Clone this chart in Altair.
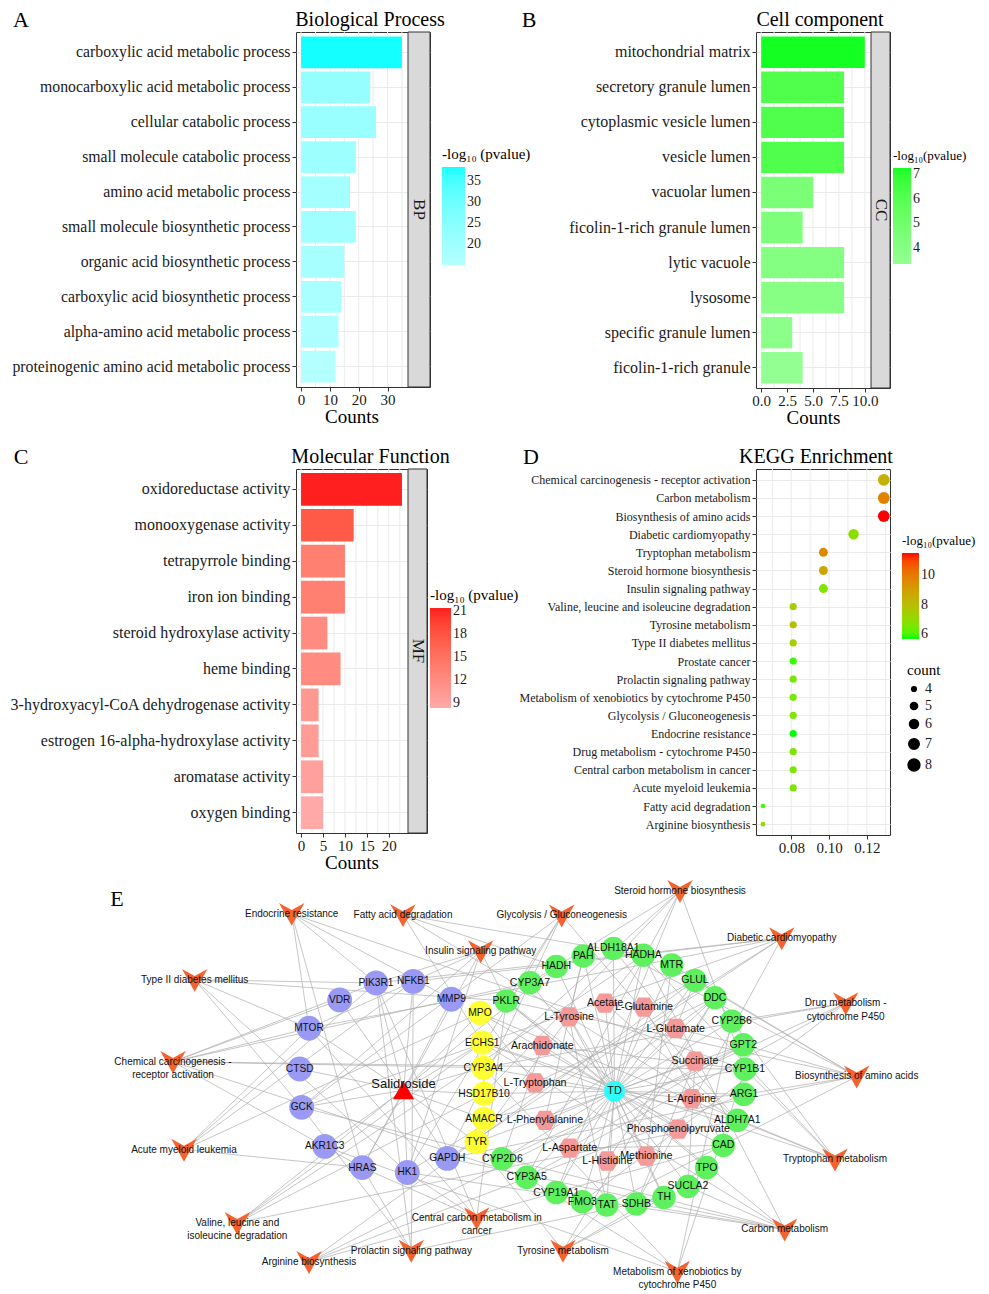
import altair as alt
import pandas as pd

SERIF = "Liberation Serif"
SANS = "Liberation Sans"
INK = "#1A1A1A"
FRAME = "#333333"
GRID = "#EBEBEB"
LOGP_TITLE = "-log\u2081\u2080 (pvalue)"
LOGP_TITLE_TIGHT = "-log\u2081\u2080(pvalue)"

# ---------------- A: Biological Process ----------------
bp_terms = ["carboxylic acid metabolic process", "monocarboxylic acid metabolic process",
            "cellular catabolic process", "small molecule catabolic process",
            "amino acid metabolic process", "small molecule biosynthetic process",
            "organic acid biosynthetic process", "carboxylic acid biosynthetic process",
            "alpha-amino acid metabolic process", "proteinogenic amino acid metabolic process"]
bp_counts = [35, 24, 26, 19, 17, 19, 15, 14, 13, 12]
bp_logp = [38.3, 22.5, 21.5, 20.5, 19.0, 19.5, 18.0, 17.5, 16.5, 15.0]

# ---------------- B: Cell component ----------------
cc_terms = ["mitochondrial matrix", "secretory granule lumen", "cytoplasmic vesicle lumen",
            "vesicle lumen", "vacuolar lumen", "ficolin-1-rich granule lumen", "lytic vacuole",
            "lysosome", "specific granule lumen", "ficolin-1-rich granule"]
cc_counts = [10, 8, 8, 8, 5, 4, 8, 8, 3, 4]
cc_logp = [7.26, 6.2, 6.2, 6.2, 4.6, 4.4, 4.1, 4.0, 3.7, 3.33]

# ---------------- C: Molecular Function ----------------
mf_terms = ["oxidoreductase activity", "monooxygenase activity", "tetrapyrrole binding",
            "iron ion binding", "steroid hydroxylase activity", "heme binding",
            "3-hydroxyacyl-CoA dehydrogenase activity", "estrogen 16-alpha-hydroxylase activity",
            "aromatase activity", "oxygen binding"]
mf_counts = [23, 12, 10, 10, 6, 9, 4, 4, 5, 5]
mf_logp = [21.4, 17.5, 13.5, 13.5, 12.0, 12.0, 10.5, 10.0, 9.5, 8.3]

# ---------------- D: KEGG Enrichment ----------------
kegg_terms = ["Chemical carcinogenesis - receptor activation", "Carbon metabolism",
              "Biosynthesis of amino acids", "Diabetic cardiomyopathy", "Tryptophan metabolism",
              "Steroid hormone biosynthesis", "Insulin signaling pathway",
              "Valine, leucine and isoleucine degradation", "Tyrosine metabolism",
              "Type II diabetes mellitus", "Prostate cancer", "Prolactin signaling pathway",
              "Metabolism of xenobiotics by cytochrome P450", "Glycolysis / Gluconeogenesis",
              "Endocrine resistance", "Drug metabolism - cytochrome P450",
              "Central carbon metabolism in cancer", "Acute myeloid leukemia",
              "Fatty acid degradation", "Arginine biosynthesis"]
kegg_ratio = [0.129, 0.129, 0.129, 0.113, 0.097, 0.097, 0.097, 0.081, 0.081, 0.081, 0.081,
              0.081, 0.081, 0.081, 0.081, 0.081, 0.081, 0.081, 0.065, 0.065]
kegg_count = [8, 8, 8, 7, 6, 6, 6, 5, 5, 5, 5, 5, 5, 5, 5, 5, 5, 5, 4, 4]
kegg_logp = [8.4, 9.8, 11.54, 6.9, 9.6, 8.8, 6.6, 7.4, 8.0, 7.4, 5.8, 6.5, 6.5, 6.6, 5.63,
             6.6, 6.6, 6.6, 5.9, 7.0]

# ---------------- E: network ----------------
pathway_nodes = [("Endocrine resistance", 292.7, 911.7), ("Fatty acid degradation", 404.0, 913.0),
                 ("Glycolysis / Gluconeogenesis", 562.7, 913.3), ("Steroid hormone biosynthesis", 681.0, 888.3),
                 ("Insulin signaling pathway", 481.7, 950.0), ("Diabetic cardiomyopathy", 782.7, 936.7),
                 ("Type II diabetes mellitus", 195.7, 979.3), ("Drug metabolism - cytochrome P450", 846.7, 1003.3),
                 ("Chemical carcinogenesis - receptor activation", 174.0, 1063.3),
                 ("Biosynthesis of amino acids", 857.7, 1078.3), ("Acute myeloid leukemia", 185.0, 1153.3),
                 ("Tryptophan metabolism", 836.0, 1163.3),
                 ("Valine, leucine and isoleucine degradation", 238.3, 1228.3),
                 ("Central carbon metabolism in cancer", 477.7, 1223.3), ("Carbon metabolism", 785.7, 1235.0),
                 ("Arginine biosynthesis", 310.0, 1268.3), ("Prolactin signaling pathway", 412.3, 1256.7),
                 ("Tyrosine metabolism", 564.0, 1256.7),
                 ("Metabolism of xenobiotics by cytochrome P450", 678.3, 1278.3)]
pathway_labels = {"Drug metabolism - cytochrome P450": "Drug metabolism -\ncytochrome P450",
                  "Chemical carcinogenesis - receptor activation": "Chemical carcinogenesis -\nreceptor activation",
                  "Valine, leucine and isoleucine degradation": "Valine, leucine and\nisoleucine degradation",
                  "Central carbon metabolism in cancer": "Central carbon metabolism in\ncancer",
                  "Metabolism of xenobiotics by cytochrome P450": "Metabolism of xenobiotics by\ncytochrome P450"}
drug_targets = [("PIK3R1", 377.0, 982.7), ("NFKB1", 414.3, 981.0), ("VDR", 340.7, 1000.0),
                ("MMP9", 452.3, 999.3), ("MTOR", 310.0, 1029.0), ("CTSD", 300.7, 1070.7),
                ("GCK", 302.7, 1110.0), ("AKR1C3", 325.7, 1150.0), ("HRAS", 363.3, 1171.7),
                ("HK1", 408.3, 1176.7), ("GAPDH", 448.3, 1162.3)]
shared_targets = [("MPO", 481.0, 1013.3), ("ECHS1", 483.3, 1043.7), ("CYP3A4", 484.3, 1069.3),
                  ("HSD17B10", 485.0, 1096.0), ("AMACR", 485.0, 1121.7), ("TYR", 477.7, 1145.7)]
disease_genes = [("PKLR", 507.3, 1001.0), ("CYP3A7", 531.0, 982.3), ("HADH", 557.3, 965.7),
                 ("PAH", 584.3, 955.0), ("ALDH18A1", 614.3, 947.3), ("HADHA", 644.3, 954.3),
                 ("MTR", 672.7, 964.3), ("GLUL", 696.0, 980.0), ("DDC", 716.0, 997.7),
                 ("CYP2B6", 732.7, 1021.7), ("GPT2", 744.3, 1046.0), ("CYP1B1", 746.0, 1071.0),
                 ("ARG1", 745.0, 1096.7), ("ALDH7A1", 738.3, 1123.3), ("CAD", 724.3, 1149.0),
                 ("TPO", 707.7, 1171.7), ("SUCLA2", 689.0, 1191.0), ("TH", 665.0, 1202.3),
                 ("SDHB", 637.3, 1209.0), ("TAT", 607.7, 1210.0), ("FMO3", 583.3, 1206.7),
                 ("CYP19A1", 557.3, 1197.3), ("CYP3A5", 527.7, 1181.7), ("CYP2D6", 503.3, 1162.7)]
metabolites = [("Acetate", 606.0, 1003.3), ("L-Glutamine", 645.0, 1007.3), ("L-Tyrosine", 570.0, 1017.3),
               ("L-Glutamate", 676.7, 1029.3), ("Arachidonate", 543.3, 1046.7), ("Succinate", 696.0, 1062.7),
               ("L-Tryptophan", 536.0, 1085.0), ("L-Arginine", 692.7, 1101.0),
               ("L-Phenylalanine", 546.0, 1123.3), ("Phosphoenolpyruvate", 679.3, 1132.3),
               ("L-Aspartate", 570.7, 1151.7), ("Methionine", 647.3, 1160.0), ("L-Histidine", 608.3, 1165.0)]
disease_node = [("TD", 615.5, 1093.5)]
drug_node = [("Salidroside", 404.5, 1092.5)]

pathway_genes = {
    "Endocrine resistance": ["MTOR", "PIK3R1", "HRAS", "MMP9", "CYP1B1"],
    "Fatty acid degradation": ["HADHA", "HADH", "ECHS1", "ALDH7A1"],
    "Glycolysis / Gluconeogenesis": ["HK1", "GCK", "PKLR", "GAPDH", "ALDH7A1"],
    "Steroid hormone biosynthesis": ["CYP3A4", "CYP3A5", "CYP3A7", "CYP1B1", "CYP19A1", "HSD17B10"],
    "Insulin signaling pathway": ["PIK3R1", "MTOR", "HRAS", "HK1", "GCK", "PKLR"],
    "Diabetic cardiomyopathy": ["MTOR", "PIK3R1", "NFKB1", "HK1", "GCK", "GAPDH", "SDHB"],
    "Type II diabetes mellitus": ["PIK3R1", "MTOR", "HK1", "GCK", "PKLR"],
    "Drug metabolism - cytochrome P450": ["CYP3A4", "CYP3A5", "CYP2B6", "CYP2D6", "FMO3"],
    "Chemical carcinogenesis - receptor activation": ["CYP3A4", "CYP3A5", "CYP3A7", "CYP1B1", "VDR",
                                                      "PIK3R1", "MTOR", "HRAS"],
    "Biosynthesis of amino acids": ["GPT2", "GLUL", "ARG1", "ALDH18A1", "PKLR", "GAPDH", "MTR", "TAT"],
    "Acute myeloid leukemia": ["PIK3R1", "MTOR", "NFKB1", "HRAS", "MPO"],
    "Tryptophan metabolism": ["DDC", "CYP1B1", "HADHA", "ECHS1", "ALDH7A1", "MPO"],
    "Valine, leucine and isoleucine degradation": ["HADHA", "HADH", "ECHS1", "HSD17B10", "ALDH7A1"],
    "Central carbon metabolism in cancer": ["PIK3R1", "MTOR", "HRAS", "HK1", "PKLR"],
    "Carbon metabolism": ["GAPDH", "HK1", "GCK", "PKLR", "HADHA", "ECHS1", "SDHB", "SUCLA2"],
    "Arginine biosynthesis": ["ARG1", "GPT2", "GLUL", "CAD"],
    "Prolactin signaling pathway": ["PIK3R1", "NFKB1", "HRAS", "GCK", "TH"],
    "Tyrosine metabolism": ["TH", "TAT", "DDC", "TPO", "TYR"],
    "Metabolism of xenobiotics by cytochrome P450": ["CYP3A4", "CYP3A5", "CYP2B6", "CYP1B1", "AKR1C3"],
}
metabolite_genes = {
    "Acetate": ["ALDH7A1", "HADHA"], "L-Glutamine": ["GLUL", "CAD"],
    "L-Tyrosine": ["TAT", "TH", "TYR", "PAH"], "L-Glutamate": ["GLUL", "GPT2", "ALDH18A1"],
    "Arachidonate": ["CYP1B1", "CYP2D6"], "Succinate": ["SDHB", "SUCLA2"],
    "L-Tryptophan": ["DDC", "MPO"], "L-Arginine": ["ARG1"], "L-Phenylalanine": ["PAH", "DDC"],
    "Phosphoenolpyruvate": ["PKLR"], "L-Aspartate": ["CAD", "GPT2"], "Methionine": ["MTR"],
    "L-Histidine": ["DDC"],
}

TITLE_OFFSET = -21
LETTER_DY = -12


def letter_layer(letter, dx, dy=LETTER_DY):
    return alt.Chart(pd.DataFrame({"t": [letter]})).mark_text(
        font=SERIF, fontSize=22, color="#000000", align="center", baseline="middle", dx=dx, dy=dy
    ).encode(x=alt.value(0), y=alt.value(0), text="t:N")


def bar_panel(terms, counts, logp, title, title_dx, letter, ldx, strip, ticks, minor,
              tick_fmt, panel_w, strip_w, height, lo, hi, ltitle, lvals, lx, ly, glen, gthick,
              ltsize, label_size, pad_in, pad_out):
    cmax = max(counts)
    dmin, dmax = -0.05 * cmax, 1.05 * cmax
    ppu = panel_w / (dmax - dmin)
    s0 = dmax + 1.0 / ppu
    s1 = s0 + strip_w / ppu
    width = panel_w + 1 + strip_w
    xs = alt.Scale(domain=[dmin, s1], nice=False, zero=False)
    xaxis = alt.Axis(values=ticks, format=tick_fmt, title="Counts", grid=False,
                     labelFontSize=15, titleFontSize=19, tickSize=4, labelPadding=1,
                     titlePadding=0, titleX=panel_w / 2, titleAlign="center")
    ys = alt.Scale(domain=terms, paddingInner=pad_in, paddingOuter=pad_out)
    df = pd.DataFrame({"term": terms, "count": counts, "logp": logp})

    grid = alt.Chart(pd.DataFrame({"g": minor})).mark_rule(color=GRID, strokeWidth=1).encode(
        x=alt.X("g:Q", scale=xs, axis=xaxis))
    bars = alt.Chart(df).mark_bar().encode(
        x=alt.X("count:Q", scale=xs, axis=xaxis),
        y=alt.Y("term:N", scale=ys, sort=terms,
                axis=alt.Axis(title=None, grid=True, gridColor=GRID, bandPosition=0.5,
                              labelFontSize=label_size, tickSize=4, labelPadding=2,
                              labelLimit=400)),
        color=alt.Color("logp:Q",
                        scale=alt.Scale(domain=[min(logp), max(logp)], range=[lo, hi],
                                        interpolate="lab"),
                        legend=alt.Legend(title=ltitle, orient="none", legendX=lx, legendY=ly,
                                          direction="vertical", values=lvals, gradientLength=glen,
                                          gradientThickness=gthick, labelOverlap=False,
                                          titlePadding=5, titleFontSize=ltsize)),
    )
    sdf = pd.DataFrame({"s0": [s0], "s1": [s1], "mid": [(s0 + s1) / 2], "lab": [strip]})
    rect = alt.Chart(sdf).mark_rect(fill="#D9D9D9", stroke=FRAME, strokeWidth=1).encode(
        x=alt.X("s0:Q", scale=xs, axis=xaxis), x2="s1:Q", y=alt.value(0), y2=alt.value(height))
    stext = alt.Chart(sdf).mark_text(angle=90, font=SERIF, fontSize=17, color=INK,
                                     baseline="middle", align="center").encode(
        x=alt.X("mid:Q", scale=xs, axis=xaxis), y=alt.value(height / 2), text="lab:N")
    return alt.layer(grid, bars, rect, stext, letter_layer(letter, ldx)).properties(
        width=width, height=height,
        title=alt.TitleParams(title, font=SERIF, fontSize=20, fontWeight="normal", color="#000000",
                              anchor="middle", dx=title_dx, offset=TITLE_OFFSET),
        view=alt.ViewBackground(stroke=FRAME, strokeWidth=1))


panelA = bar_panel(bp_terms, bp_counts, bp_logp, "Biological Process", 7, "A", -275, "BP",
                   [0, 10, 20, 30], [0, 5, 10, 15, 20, 25, 30, 35], "d", 111, 22, 355,
                   "#B4FFFF", "#14FFFF", LOGP_TITLE, [20, 25, 30, 35], 146, 115, 98, 23, 15,
                   15.8, 0.09, 0.13)
panelB = bar_panel(cc_terms, cc_counts, cc_logp, "Cell component", -3, "B", -227, "CC",
                   [0, 2.5, 5, 7.5, 10], [0, 1.25, 2.5, 3.75, 5, 6.25, 7.5, 8.75, 10], ".1f",
                   114, 19, 356, "#93FF93", "#14FF22", LOGP_TITLE_TIGHT, [4, 5, 6, 7], 137, 118,
                   96, 18, 13, 16, 0.105, 0.13)
panelC = bar_panel(mf_terms, mf_counts, mf_logp, "Molecular Function", 9, "C", -275, "MF",
                   [0, 5, 10, 15, 20], [0, 2.5, 5, 7.5, 10, 12.5, 15, 17.5, 20, 22.5], "d",
                   111, 19, 364, "#FFA9A9", "#FF1F1F", LOGP_TITLE, [9, 12, 15, 18, 21], 134, 119,
                   100, 21, 15, 16.0, 0.09, 0.11)

# ---- D dot plot ----
kdf = pd.DataFrame({"term": kegg_terms, "ratio": kegg_ratio, "count": kegg_count, "logp": kegg_logp})
kx = alt.Scale(domain=[0.0613, 0.1323], nice=False, zero=False)
kxaxis = alt.Axis(values=[0.08, 0.10, 0.12], format=".2f", title=None, grid=False,
                  labelFontSize=15, tickSize=4, labelPadding=1)
ky = alt.Scale(type="point", domain=kegg_terms, padding=0.6)
kgrid = alt.Chart(pd.DataFrame({"g": [0.07, 0.08, 0.09, 0.10, 0.11, 0.12, 0.13]})).mark_rule(
    color=GRID, strokeWidth=1).encode(x=alt.X("g:Q", scale=kx, axis=kxaxis))
kpts = alt.Chart(kdf).mark_circle(opacity=1).encode(
    x=alt.X("ratio:Q", scale=kx, axis=kxaxis),
    y=alt.Y("term:N", scale=ky, sort=kegg_terms,
            axis=alt.Axis(title=None, grid=True, gridColor=GRID, labelFontSize=12, tickSize=4,
                          labelPadding=2, labelLimit=400)),
    color=alt.Color("logp:Q", scale=alt.Scale(domain=[min(kegg_logp), max(kegg_logp)],
                                              range=["#00FF00", "#FF0000"], interpolate="lab"),
                    legend=alt.Legend(title=LOGP_TITLE_TIGHT, orient="none", legendX=146, legendY=66,
                                      direction="vertical", values=[6, 8, 10], gradientLength=86,
                                      gradientThickness=17, labelOverlap=False, titlePadding=5,
                                      titleFontSize=13)),
    size=alt.Size("count:Q", scale=alt.Scale(domain=[4, 8], range=[22, 139], zero=False),
                  legend=alt.Legend(title="count", orient="none", legendX=151, legendY=194,
                                    values=[4, 5, 6, 7, 8], symbolFillColor="#000000",
                                    symbolStrokeColor="#000000", symbolOpacity=1, rowPadding=3,
                                    titlePadding=4)),
)
panelD = alt.layer(kgrid, kpts, letter_layer("D", -225)).properties(
    width=134, height=366,
    title=alt.TitleParams("KEGG Enrichment", font=SERIF, fontSize=20, fontWeight="normal",
                          color="#000000", anchor="middle", dx=-7, offset=TITLE_OFFSET),
    view=alt.ViewBackground(stroke=FRAME, strokeWidth=1))

grid = alt.concat(panelA, panelB, panelC, panelD, columns=2, align="each",
                  spacing={"row": 17, "column": -14}).resolve_scale(
    color="independent", size="independent")

# ---- E network ----
E_LEFT, E_RIGHT = 297.0, 979.0      # page x of plot edges
E_TOP, E_BOTTOM = 870.0, 1284.0     # page y of plot edges
ex = alt.Scale(domain=[E_LEFT, E_RIGHT], nice=False, zero=False)
ey = alt.Scale(domain=[E_TOP, 1294.0], nice=False, zero=False, reverse=True)

rows = []
for kind, group in [("pathway", pathway_nodes), ("target", drug_targets), ("shared", shared_targets),
                    ("tdgene", disease_genes), ("metab", metabolites), ("td", disease_node),
                    ("drug", drug_node)]:
    for name, x, y in group:
        rows.append({"name": name, "kind": kind, "x": x, "y": y,
                     "label": pathway_labels.get(name, name)})
nodes = pd.DataFrame(rows)
pos = {r["name"]: (r["x"], r["y"]) for r in rows}

pairs = []
for g, _, _ in drug_targets + shared_targets:
    pairs.append(("Salidroside", g))
for g, _, _ in shared_targets + disease_genes + metabolites:
    pairs.append(("TD", g))
for p, gs in pathway_genes.items():
    for g in gs:
        pairs.append((p, g))
for m, gs in metabolite_genes.items():
    for g in gs:
        pairs.append((m, g))
edges = pd.DataFrame([{"x": pos[a][0], "y": pos[a][1], "x2": pos[b][0], "y2": pos[b][1]}
                      for a, b in pairs])

kinds = ["pathway", "target", "shared", "tdgene", "metab", "td", "drug"]
V_PATH = "M-1,-0.85L0,-0.3L1,-0.85L0,0.95Z"
HEX_PATH = "M-1,0L-0.5,-0.85L0.5,-0.85L1,0L0.5,0.85L-0.5,0.85Z"
OCT_PATH = ("M0.924,0.383L0.383,0.924L-0.383,0.924L-0.924,0.383L-0.924,-0.383"
            "L-0.383,-0.924L0.383,-0.924L0.924,-0.383Z")
TRI_PATH = "M0,-0.85L1,0.85L-1,0.85Z"
shape_range = [V_PATH, "circle", "circle", "circle", HEX_PATH, OCT_PATH, TRI_PATH]
size_range = [650, 452, 480, 380, 400, 720, 400]
color_range = ["#F4632E", "#9A9AF4", "#FFFF33", "#5EF05E", "#F59A9A", "#2EFDFD", "#FF0000"]
font_range = [10, 11, 11, 8.5, 10, 15, 13]

e_edges = alt.Chart(edges).mark_rule(color="#ADADAD", strokeWidth=0.7).encode(
    x=alt.X("x:Q", scale=ex, axis=None), y=alt.Y("y:Q", scale=ey, axis=None),
    x2="x2:Q", y2="y2:Q")
e_nodes = alt.Chart(nodes).mark_point(filled=True, opacity=1, strokeWidth=0).encode(
    x=alt.X("x:Q", scale=ex, axis=None), y=alt.Y("y:Q", scale=ey, axis=None),
    shape=alt.Shape("kind:N", scale=alt.Scale(domain=kinds, range=shape_range), legend=None),
    color=alt.Color("kind:N", scale=alt.Scale(domain=kinds, range=color_range), legend=None),
    size=alt.Size("kind:O", scale=alt.Scale(domain=kinds, range=size_range), legend=None))
e_labels = alt.Chart(nodes[nodes["kind"] != "drug"]).mark_text(
    font=SANS, lineBreak="\n", lineHeight=13.5, color="#111111", baseline="middle",
    align="center").encode(
    x=alt.X("x:Q", scale=ex, axis=None), y=alt.Y("y:Q", scale=ey, axis=None), text="label:N",
    size=alt.Size("kind:O", scale=alt.Scale(domain=kinds, range=font_range), legend=None))
e_drug = alt.Chart(nodes[nodes["kind"] == "drug"]).mark_text(
    font=SANS, fontSize=13, color="#111111", baseline="middle", align="center", dy=-6).encode(
    x=alt.X("x:Q", scale=ex, axis=None), y=alt.Y("y:Q", scale=ey, axis=None), text="label:N")
e_letter = alt.Chart(pd.DataFrame({"t": ["E"], "x": [118.0], "y": [897.0]})).mark_text(
    font=SERIF, fontSize=22, color="#000000", baseline="middle", align="center").encode(
    x=alt.X("x:Q", scale=ex, axis=None), y=alt.Y("y:Q", scale=ey, axis=None), text="t:N")
panelE = alt.layer(e_edges, e_nodes, e_labels, e_drug, e_letter).resolve_scale(
    size="independent").properties(
    width=E_RIGHT - E_LEFT, height=E_BOTTOM - E_TOP, view=alt.ViewBackground(strokeWidth=0))

chart = alt.vconcat(grid, panelE, spacing=0).properties(padding=0).configure_view(
    strokeWidth=0).configure_axis(
    labelFont=SERIF, titleFont=SERIF, labelColor=INK, titleColor="#000000", tickColor=FRAME,
    domain=False, titleFontWeight="normal").configure_legend(
    titleFont=SERIF, labelFont=SERIF, titleFontWeight="normal", titleFontSize=15, labelFontSize=14,
    labelColor=INK, titleColor="#000000", gradientStrokeWidth=0, titleLimit=300)

chart.save("out.html", embed_options={"renderer": "svg", "actions": False})
